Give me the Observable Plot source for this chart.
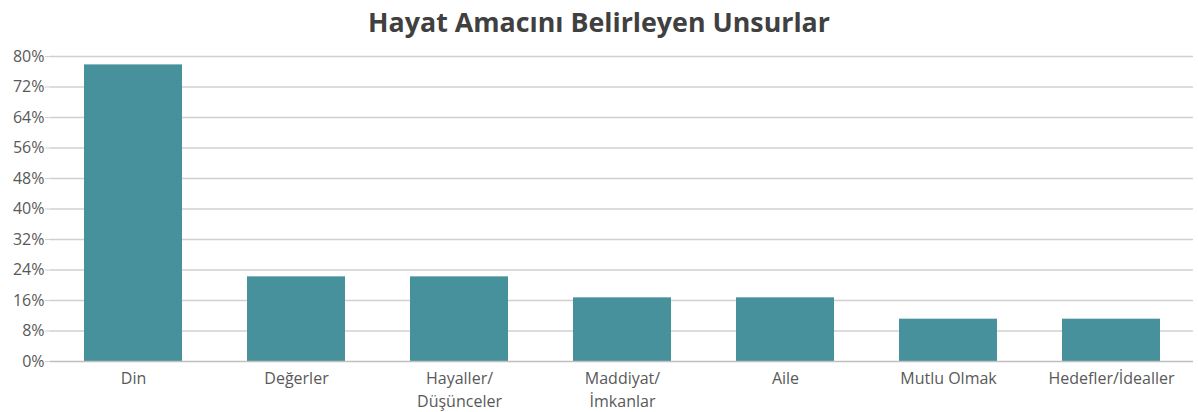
<!DOCTYPE html>
<html>
<head>
<meta charset="utf-8">
<script src="https://cdn.jsdelivr.net/npm/d3@7"></script>
<script src="https://cdn.jsdelivr.net/npm/@observablehq/plot@0.6"></script>
<style>
  html, body { margin: 0; padding: 0; background: #fff; }
  #title { height: 42px; line-height: 44px; text-align: center; font-family: "Open Sans", sans-serif; font-weight: 700; font-size: 26.8px; color: #404040; }
  #chart svg { display: block; }
</style>
</head>
<body>
<div id="title">Hayat Amacını Belirleyen Unsurlar</div>
<div id="chart"></div>
<script>
const categories = ["Din", "Değerler", "Hayaller/\nDüşünceler", "Maddiyat/\nİmkanlar", "Aile", "Mutlu Olmak", "Hedefler/İdealler"];
const values = [77.8, 22.2, 22.2, 16.7, 16.7, 11.1, 11.1];
const yTicks = [0, 8, 16, 24, 32, 40, 48, 56, 64, 72, 80];

const data = categories.map((c, i) => ({category: c, value: values[i]}));

const chart = Plot.plot({
  width: 1198,
  height: 370,
  marginTop: 14,
  marginBottom: 51,
  marginLeft: 50,
  marginRight: 5,
  style: {fontFamily: "Open Sans, sans-serif", fontSize: "16px", color: "#595959", background: "#fff"},
  x: {domain: categories, paddingInner: 0.4, paddingOuter: 0.2, label: null},
  y: {domain: [0, 80], label: null},
  marks: [
    Plot.ruleY(yTicks.filter(d => d > 0), {stroke: "#d0d0d0", strokeWidth: 1.5}),
    Plot.barY(data, {x: "category", y: "value", fill: "#46919b"}),
    Plot.ruleY([0], {stroke: "#bfbfbf", strokeWidth: 1.5}),
    Plot.axisY({ticks: yTicks, tickFormat: d => `${d}%`, tickSize: 5, tickPadding: 1, stroke: "#d0d0d0", fill: "#595959", fontSize: 16, line: true}),
    Plot.axisX({tickSize: 0, tickPadding: 7, fill: "#595959", fontSize: 16, lineHeight: 1.4})
  ]
});
document.getElementById("chart").appendChild(chart);
</script>
</body>
</html>
